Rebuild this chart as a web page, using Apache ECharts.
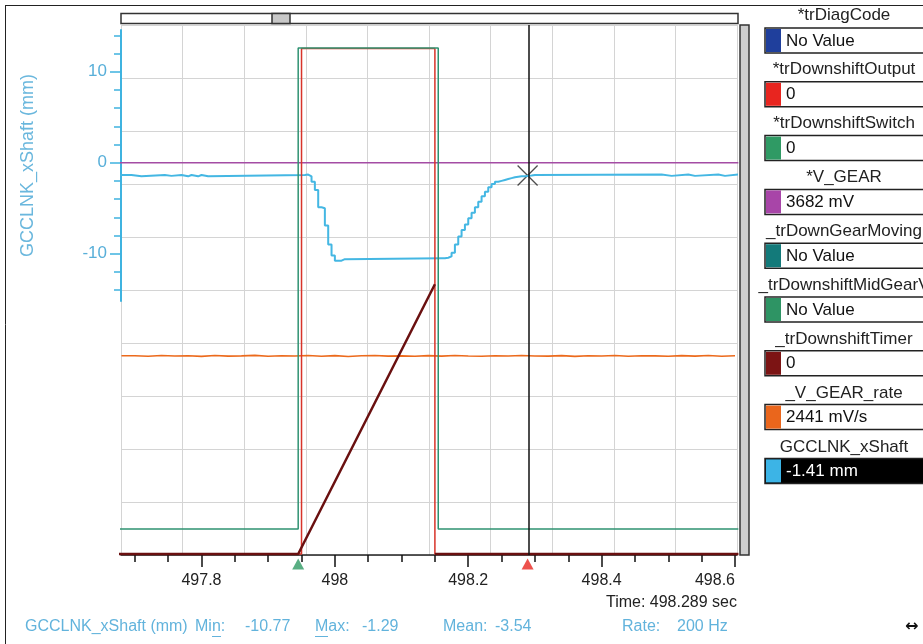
<!DOCTYPE html>
<html>
<head>
<meta charset="utf-8">
<script src="https://cdn.jsdelivr.net/npm/echarts@6/dist/echarts.min.js"></script>
<style>
  html, body { margin: 0; padding: 0; background: #fff; }
  #chart { width: 923px; height: 644px; }
</style>
</head>
<body>
<div id="chart"></div>
<script>
// ---- time window and cursor (seconds) ----
const tMin = 497.6793;
const tMax = 498.6030;
const cursorTime = 498.289;

// ---- axis ticks ----
const xMinorTicks = [497.70, 497.75, 497.80, 497.85, 497.90, 497.95, 498.00, 498.05, 498.10,
  498.15, 498.20, 498.25, 498.30, 498.35, 498.40, 498.45, 498.50, 498.55, 498.60];
const xMajorTicks = [497.8, 498.0, 498.2, 498.4, 498.6];
const xInnerLabels = [497.8, 498.0, 498.2, 498.4];
const xLastLabel = [498.6];
const yMinorTicks = [-14, -12, -10, -8, -6, -4, -2, 0, 2, 4, 6, 8, 10, 12, 14];
const yMajorTicks = [-10, 0, 10];

// ---- GCCLNK_xShaft (mm), sampled at 200 Hz, held between samples ----
const cyanT = [497.675, 497.695, 497.710, 497.745, 497.755, 497.770, 497.780, 497.785, 497.795, 497.800,
  497.810, 497.955, 497.960, 497.965, 497.970, 497.975, 497.980, 497.985, 497.990, 497.995,
  498.000, 498.005, 498.010, 498.015, 498.160, 498.165, 498.170, 498.175, 498.180, 498.185,
  498.190, 498.195, 498.200, 498.205, 498.210, 498.215, 498.220, 498.225, 498.230, 498.235,
  498.240, 498.245, 498.250, 498.255, 498.260, 498.265, 498.270, 498.275, 498.280, 498.285,
  498.295, 498.300, 498.490, 498.505, 498.530, 498.540, 498.575, 498.585, 498.605];
const cyanV = [-1.35, -1.5, -1.35, -1.45, -1.35, -1.5, -1.35, -1.5, -1.35, -1.5,
  -1.35, -1.3, -1.5, -2.1, -3.0, -4.9, -5.0, -6.9, -9.0, -10.2,
  -10.77, -10.77, -10.6, -10.5, -10.5, -10.45, -10.3, -9.9, -9.0, -8.1,
  -7.4, -6.8, -6.1, -5.5, -4.9, -4.3, -3.7, -3.2, -2.7, -2.35,
  -2.1, -2.0, -1.9, -1.8, -1.7, -1.6, -1.55, -1.5, -1.48, -1.41,
  -1.35, -1.29, -1.45, -1.29, -1.45, -1.29, -1.45, -1.29, -1.29];
const cursorXShaft = -1.41;

// ---- *trDownshiftOutput / *trDownshiftSwitch (0/1) ----
const outputT = [497.675, 497.950, 498.150, 498.605];
const outputV = [0, 1, 0, 0];
const switchT = [497.675, 497.945, 498.155, 498.605];
const switchV = [0, 1, 0, 0];

// ---- _trDownshiftTimer (ms); the reset edge sits under the output edge ----
const timerT = [497.675, 497.945, 498.150, 498.150, 498.150, 498.605];
const timerV = [0, 0, 204, null, 0, 0];

// ---- *V_GEAR (mV) ----
const vgearT = [497.675,
  497.715, 497.717, 497.725, 497.727, 497.735, 497.737, 497.805, 497.807, 497.815, 497.817,
  497.885, 497.887, 497.890, 497.892, 497.895, 497.897, 497.915, 497.917, 497.925, 497.927,
  498.040, 498.042, 498.070, 498.072, 498.130, 498.132, 498.205, 498.207, 498.265, 498.267,
  498.375, 498.377, 498.385, 498.387, 498.390, 498.392, 498.455, 498.457, 498.470, 498.472,
  498.475, 498.477, 498.500, 498.502, 498.535, 498.537, 498.570, 498.572, 498.605];
const vgearV = [3682,
  3700, 3682, 3700, 3682, 3700, 3682, 3700, 3682, 3700, 3682,
  3700, 3682, 3700, 3682, 3700, 3682, 3700, 3682, 3700, 3682,
  3700, 3682, 3700, 3682, 3700, 3682, 3700, 3682, 3700, 3682,
  3700, 3682, 3700, 3682, 3700, 3682, 3700, 3682, 3700, 3682,
  3700, 3682, 3700, 3682, 3700, 3682, 3700, 3682, 3682];

// ---- _V_GEAR_rate (mV/s) ----
const rateT = [497.68, 497.70, 497.72, 497.74, 497.76, 497.78, 497.80, 497.82, 497.84, 497.86,
  497.88, 497.90, 497.92, 497.94, 497.96, 497.98, 498.00, 498.02, 498.04, 498.06,
  498.08, 498.10, 498.12, 498.14, 498.16, 498.18, 498.20, 498.22, 498.24, 498.26,
  498.28, 498.30, 498.32, 498.34, 498.36, 498.38, 498.40, 498.42, 498.44, 498.46,
  498.48, 498.50, 498.52, 498.54, 498.56, 498.58, 498.60];
const rateV = [2444, 2438, 2447, 2440, 2443, 2436, 2446, 2439, 2442, 2448,
  2437, 2444, 2440, 2447, 2438, 2445, 2435, 2443, 2446, 2439,
  2442, 2437, 2445, 2439, 2447, 2441, 2437, 2444, 2440, 2446,
  2441, 2439, 2445, 2436, 2443, 2440, 2447, 2438, 2444, 2442,
  2437, 2445, 2439, 2446, 2438, 2443, 2441];

// ---- channel panel ----
const channelNames = ['*trDiagCode', '*trDownshiftOutput', '*trDownshiftSwitch', '*V_GEAR',
  '_trDownGearMoving', '_trDownshiftMidGearV', '_trDownshiftTimer', '_V_GEAR_rate', 'GCCLNK_xShaft'];
const channelColors = ['#1f3f9c', '#e8251f', '#2f9a64', '#a845a8', '#137a7a', '#2e9464', '#7c1414', '#ea661c', '#3cb4e6'];
const channelValues = ['No Value', '0', '0', '3682 mV', 'No Value', 'No Value', '0', '2441 mV/s', '-1.41 mm'];
const selectedChannel = 8;

// ---- statistics of the selected channel ----
const statMin = '-10.77';
const statMax = '-1.29';
const statMean = '-3.54';
const statRate = '200 Hz';

const FONT = '"Liberation Sans", Arial, sans-serif';
const pairs = (ts, vs) => ts.map((t, i) => [t, vs[i]]);

const PLOT = { left: 121, top: 25, width: 616, height: 530 };

function timeAxis(gridIndex, extra) {
  return Object.assign({
    type: 'value', gridIndex, min: tMin, max: tMax, position: 'bottom',
    axisLine: { show: false, onZero: false }, axisTick: { show: false },
    axisLabel: { show: false }, splitLine: { show: false }
  }, extra || {});
}
function hiddenY(gridIndex, min, max) {
  return { type: 'value', gridIndex, min, max, show: false, position: 'left',
    axisLine: { onZero: false }, splitLine: { show: false } };
}

// ---- decorations: frame, scrollbars, channel panel, status lines ----
const graphic = [];
graphic.push({ type: 'line', shape: { x1: 5, y1: 5.5, x2: 923, y2: 5.5 }, style: { stroke: '#222', lineWidth: 1 } });
graphic.push({ type: 'line', shape: { x1: 5.5, y1: 5, x2: 5.5, y2: 644 }, style: { stroke: '#222', lineWidth: 1 } });
graphic.push({ type: 'rect', shape: { x: 121, y: 13.5, width: 617, height: 10 }, style: { fill: '#fff', stroke: '#333', lineWidth: 1.5 } });
graphic.push({ type: 'rect', shape: { x: 272, y: 13.5, width: 18, height: 10 }, style: { fill: '#c8c8c8', stroke: '#333', lineWidth: 1.5 } });
graphic.push({ type: 'rect', shape: { x: 740, y: 25, width: 9, height: 530 }, style: { fill: '#cdcdcd', stroke: '#333', lineWidth: 1.5 } });

channelNames.forEach((name, i) => {
  const top = 28 + 53.8 * i;
  const sel = i === selectedChannel;
  graphic.push({ type: 'text', x: 844, y: 15 + 54 * i,
    style: { text: name, font: '17px ' + FONT, fill: '#222', align: 'center', verticalAlign: 'middle' } });
  graphic.push({ type: 'rect', shape: { x: 765, y: top, width: 175, height: 25 },
    style: { fill: sel ? '#000' : '#fff', stroke: '#222', lineWidth: 1.5 } });
  graphic.push({ type: 'rect', shape: { x: 766, y: top + 1, width: 15, height: 23 },
    style: { fill: channelColors[i] } });
  graphic.push({ type: 'text', x: 786, y: top + 13,
    style: { text: channelValues[i], font: '17px ' + FONT, fill: sel ? '#fff' : '#111', align: 'left', verticalAlign: 'middle' } });
});

graphic.push({ type: 'text', x: 737, y: 603,
  style: { text: 'Time: ' + cursorTime + ' sec', font: '16px ' + FONT, fill: '#222', align: 'right', verticalAlign: 'middle' } });

const statColor = '#62b3dc';
[['GCCLNK_xShaft (mm)', 25], ['Min:', 195], [statMin, 245], ['Max:', 315], [statMax, 362],
 ['Mean:', 443], [statMean, 495], ['Rate:', 622], [statRate, 677]].forEach(([txt, x]) => {
  graphic.push({ type: 'text', x, y: 627,
    style: { text: txt, font: '16px ' + FONT, fill: statColor, align: 'left', verticalAlign: 'middle' } });
});
// mnemonic underlines (Mi_n_, _M_ax)
graphic.push({ type: 'line', shape: { x1: 212, y1: 636.5, x2: 221, y2: 636.5 }, style: { stroke: statColor, lineWidth: 1 } });
graphic.push({ type: 'line', shape: { x1: 315, y1: 636.5, x2: 328, y2: 636.5 }, style: { stroke: statColor, lineWidth: 1 } });
graphic.push({ type: 'text', x: 905, y: 627,
  style: { text: '\u2194', font: 'bold 16px "DejaVu Sans", sans-serif', fill: '#111', align: 'left', verticalAlign: 'middle' } });

const option = {
  animation: false,
  backgroundColor: '#fff',
  grid: [
    Object.assign({ outerBoundsMode: 'none', containLabel: false }, PLOT),
    { left: 121, width: 616, top: 30, height: 271, outerBoundsMode: 'none', containLabel: false },
    { left: 121, width: 616, top: 557, height: 14, outerBoundsMode: 'none', containLabel: false }
  ],
  xAxis: [
    // 10 x 10 background grid
    { type: 'value', gridIndex: 0, min: 0, max: 10, interval: 1, position: 'bottom',
      axisLine: { show: false, onZero: false }, axisTick: { show: false }, axisLabel: { show: false },
      splitLine: { show: true, lineStyle: { color: '#d4d4d4', width: 1 } } },
    // time axis: line + minor ticks
    timeAxis(0, { axisLine: { show: true, onZero: false, lineStyle: { color: '#222', width: 1.5 } },
      axisTick: { show: true, customValues: xMinorTicks, length: 7, lineStyle: { color: '#111', width: 1.5 } } }),
    // time axis: major ticks + labels
    timeAxis(0, { axisTick: { show: true, customValues: xMajorTicks, length: 12, lineStyle: { color: '#111', width: 1.5 } },
      axisLabel: { show: true, customValues: xInnerLabels, margin: 18, fontSize: 16, fontFamily: FONT, color: '#222' } }),
    timeAxis(0, { axisLabel: { show: true, customValues: xLastLabel, align: 'right', margin: 18, fontSize: 16, fontFamily: FONT, color: '#222' } }),
    timeAxis(1),
    timeAxis(2)
  ],
  yAxis: [
    { type: 'value', gridIndex: 0, min: 0, max: 10, interval: 1, position: 'left',
      axisLine: { show: false, onZero: false }, axisTick: { show: false }, axisLabel: { show: false },
      splitLine: { show: true, lineStyle: { color: '#d4d4d4', width: 1 } } },
    hiddenY(0, -0.002, 1.0466),   // 1: trDownshiftOutput
    hiddenY(0, -0.054, 1.048),    // 2: trDownshiftSwitch
    hiddenY(0, 0, 4975),          // 3: V_GEAR
    hiddenY(0, -0.756, 400),      // 4: trDownshiftTimer
    hiddenY(0, 0, 6500),          // 5: V_GEAR_rate
    { // 6: GCCLNK_xShaft
      type: 'value', gridIndex: 1, min: -15.2, max: 14.58, position: 'left',
      name: 'GCCLNK_xShaft (mm)', nameLocation: 'middle', nameGap: 84,
      nameTextStyle: { fontSize: 18, fontFamily: FONT, color: '#6ab7dd' },
      axisLine: { show: true, onZero: false, lineStyle: { color: '#3fb3e0', width: 2 } },
      axisTick: { show: true, customValues: yMinorTicks, length: 7, lineStyle: { color: '#3fb3e0', width: 1.5 } },
      axisLabel: { show: true, customValues: yMajorTicks, margin: 14, fontSize: 17, fontFamily: FONT, color: '#58afd9' },
      splitLine: { show: false }
    },
    { // 7: longer ticks at labelled values
      type: 'value', gridIndex: 1, min: -15.2, max: 14.58, position: 'left',
      axisLine: { show: false, onZero: false },
      axisTick: { show: true, customValues: yMajorTicks, length: 11, lineStyle: { color: '#3fb3e0', width: 1.5 } },
      axisLabel: { show: false }, splitLine: { show: false }
    },
    hiddenY(2, 0, 1)              // 8: cursor marker row
  ],
  series: [
    { name: 'GCCLNK_xShaft', type: 'line', xAxisIndex: 4, yAxisIndex: 6, step: 'end',
      data: pairs(cyanT, cyanV), showSymbol: false, lineStyle: { color: '#44b7e3', width: 2 } },
    { name: '_V_GEAR_rate', type: 'line', xAxisIndex: 1, yAxisIndex: 5, step: 'end',
      data: pairs(rateT, rateV), showSymbol: false, lineStyle: { color: '#ec6a1c', width: 1.6 } },
    { name: '*V_GEAR', type: 'line', xAxisIndex: 1, yAxisIndex: 3, step: 'end',
      data: pairs(vgearT, vgearV), showSymbol: false, lineStyle: { color: '#a44ca4', width: 1.5 } },
    { name: '*trDownshiftOutput', type: 'line', xAxisIndex: 1, yAxisIndex: 1, step: 'end', clip: false,
      data: pairs(outputT, outputV), showSymbol: false, lineStyle: { color: '#d8342a', width: 1.5 } },
    { name: '_trDownshiftTimer', type: 'line', xAxisIndex: 1, yAxisIndex: 4, clip: false, connectNulls: false,
      data: pairs(timerT, timerV), showSymbol: false, lineStyle: { color: '#6a1010', width: 2.5 } },
    { name: '*trDownshiftSwitch', type: 'line', xAxisIndex: 1, yAxisIndex: 2, step: 'end',
      data: pairs(switchT, switchV), showSymbol: false, lineStyle: { color: '#2f9272', width: 1.5 },
      markLine: { silent: true, symbol: ['none', 'none'], label: { show: false },
        lineStyle: { color: '#111', width: 1.5, type: 'solid' },
        data: [{ xAxis: cursorTime }] } },
    { name: 'cursor', type: 'scatter', xAxisIndex: 4, yAxisIndex: 6, clip: false,
      symbol: 'path://M0,0L10,10M10,0L0,10', symbolSize: 20,
      itemStyle: { color: 'none', borderColor: '#222', borderWidth: 1.3 },
      data: [[cursorTime, cursorXShaft]] },
    { name: 'markers', type: 'scatter', xAxisIndex: 5, yAxisIndex: 8, clip: false,
      symbol: 'triangle', symbolSize: [12, 11],
      data: [
        { value: [switchT[1], 0.5], itemStyle: { color: '#2f9a64' } },
        { value: [cursorTime, 0.5], itemStyle: { color: '#e8251f' } }
      ] }
  ],
  graphic: graphic
};

const chart = echarts.init(document.getElementById('chart'));
chart.setOption(option);
</script>
</body>
</html>
